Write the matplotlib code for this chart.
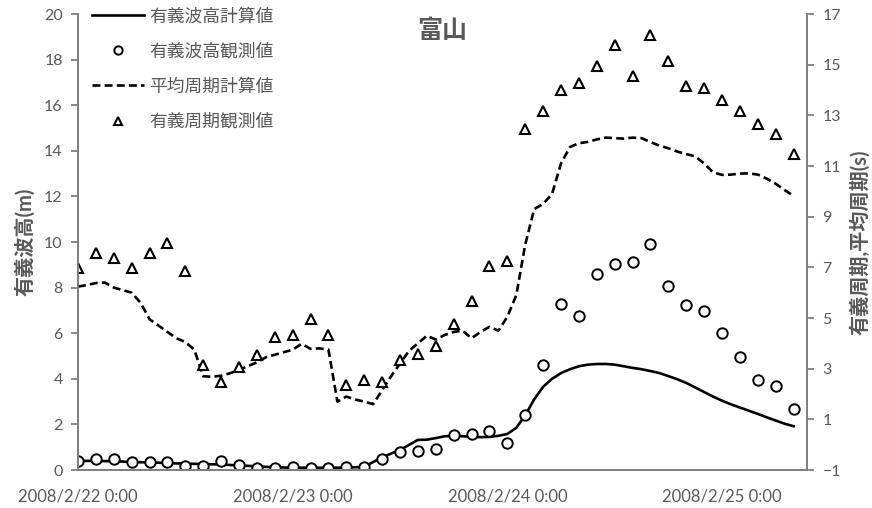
import numpy as np
import matplotlib
matplotlib.use("Agg")
import matplotlib.pyplot as plt
from matplotlib.lines import Line2D

plt.rcParams['font.family'] = ['Lato', 'Noto Sans CJK JP', 'DejaVu Sans']

# hours since 2008/2/22 0:00
obs_hours = np.arange(0, 81, 2)
calc_hours = np.arange(0, 81, 1)

# significant wave height, observed (m)
hs_obs = [0.41, 0.47, 0.47, 0.34, 0.34, 0.36, 0.18, 0.18, 0.38, 0.21,
          0.10, 0.07, 0.12, 0.07, 0.07, 0.14, 0.12, 0.47, 0.80, 0.85,
          0.92, 1.53, 1.59, 1.72, 1.20, 2.41, 4.62, 7.27, 6.77, 8.61,
          9.02, 9.14, 9.91, 8.07, 7.25, 6.96, 6.01, 4.94, 3.95, 3.70,
          2.66]

# significant wave period, observed (s)
ts_obs = [6.96, 7.58, 7.37, 6.96, 7.58, 7.95, 6.86, 3.15, 2.46, 3.08,
          3.54, 4.24, 4.33, 4.96, 4.33, 2.36, 2.55, 2.46, 3.34, 3.57,
          3.90, 4.75, 5.67, 7.05, 7.26, 12.45, 13.17, 14.00, 14.27, 14.96,
          15.78, 14.55, 16.17, 15.16, 14.17, 14.07, 13.61, 13.19, 12.65, 12.25,
          11.46]

# significant wave height, computed (m)
hs_calc = [0.40, 0.40, 0.40, 0.39, 0.38, 0.37, 0.35, 0.34, 0.33, 0.32,
           0.30, 0.29, 0.28, 0.27, 0.26, 0.25, 0.24, 0.22, 0.20, 0.18,
           0.16, 0.14, 0.12, 0.11, 0.10, 0.10, 0.10, 0.10, 0.10, 0.10,
           0.11, 0.12, 0.14, 0.35, 0.55, 0.72, 0.88, 1.10, 1.32, 1.33,
           1.40, 1.48, 1.50, 1.48, 1.46, 1.44, 1.45, 1.50, 1.58, 1.85,
           2.40, 3.10, 3.65, 4.00, 4.25, 4.42, 4.55, 4.62, 4.65, 4.65,
           4.62, 4.55, 4.48, 4.42, 4.34, 4.25, 4.12, 3.98, 3.82, 3.62,
           3.42, 3.22, 3.04, 2.88, 2.74, 2.60, 2.46, 2.31, 2.17, 2.03,
           1.92]

# mean wave period, computed (s)
tm_calc = [6.24, 6.30, 6.38, 6.40, 6.20, 6.10, 6.00, 5.60, 4.95, 4.70,
           4.45, 4.20, 4.05, 3.75, 2.70, 2.68, 2.72, 2.82, 2.95, 3.10,
           3.25, 3.45, 3.55, 3.65, 3.75, 3.98, 3.78, 3.80, 3.75, 1.70,
           1.90, 1.78, 1.70, 1.60, 2.15, 2.70, 3.20, 3.70, 4.00, 4.30,
           4.15, 4.33, 4.45, 4.50, 4.20, 4.45, 4.65, 4.50, 5.05, 5.90,
           7.90, 9.30, 9.50, 9.90, 11.10, 11.75, 11.90, 11.95, 12.05, 12.12,
           12.10, 12.08, 12.12, 12.10, 11.95, 11.80, 11.70, 11.57, 11.47, 11.38,
           11.10, 10.75, 10.65, 10.66, 10.70, 10.71, 10.66, 10.50, 10.30, 10.05,
           9.82]

day_ticks = [0, 24, 48, 72]
day_labels = ['2008/2/22 0:00', '2008/2/23 0:00', '2008/2/24 0:00', '2008/2/25 0:00']

gray = '#595959'
axis_gray = '#7f7f7f'

fig = plt.figure(figsize=(8.72, 5.08), dpi=100)
ax = fig.add_axes([78 / 872, 1 - 470 / 508, (807 - 78) / 872, (470 - 14) / 508])
ax2 = ax.twinx()

ax.plot(calc_hours, hs_calc, color='black', lw=1.9, label='有義波高計算値')
ax.plot(obs_hours, hs_obs, ls='none', marker='o', ms=7.5, mfc='white',
        mec='black', mew=1.4, label='有義波高観測値')
ax2.plot(calc_hours, tm_calc, color='black', lw=1.9, dashes=(3, 1.6),
         label='平均周期計算値')
ax2.plot(obs_hours, ts_obs, ls='none', marker='^', ms=7.5, mfc='white',
         mec='black', mew=1.5, label='有義周期観測値')

ax.set_xlim(0, 81.5)
ax.set_ylim(0, 20)
ax2.set_ylim(-1, 17)
ax.set_yticks(np.arange(0, 21, 2))
ax2.set_yticks(np.arange(-1, 18, 2))
ax.set_xticks(day_ticks)
ax.set_xticklabels(day_labels)

for a in (ax, ax2):
    a.spines['top'].set_visible(False)
    for s in ('left', 'right', 'bottom'):
        a.spines[s].set_color(axis_gray)
        a.spines[s].set_linewidth(1.3)
ax.tick_params(axis='x', length=0, pad=13, labelsize=12, labelcolor=gray)
ax.tick_params(axis='y', length=5, width=1.3, color=axis_gray, pad=6,
               labelsize=11.5, labelcolor=gray)
ax2.tick_params(axis='y', length=5, width=1.3, color=axis_gray, pad=6,
                labelsize=11.5, labelcolor=gray)

ax.set_ylabel('有義波高(m)', fontsize=14.5, fontweight='bold', color=gray, labelpad=6)
ax2.set_ylabel('有義周期,平均周期(s)', fontsize=14.5, fontweight='bold', color=gray, labelpad=6)

ax2.text(0.5, 0.965, '富山', transform=ax2.transAxes, ha='center', va='center',
         fontsize=18, fontweight='bold', color=gray)

handles = [
    Line2D([], [], color='black', lw=1.9),
    Line2D([], [], ls='none', marker='o', ms=6, mfc='white', mec='black', mew=1.4),
    Line2D([], [], color='black', lw=1.9, dashes=(3, 1.6)),
    Line2D([], [], ls='none', marker='^', ms=6, mfc='white', mec='black', mew=1.5),
]
labels = ['有義波高計算値', '有義波高観測値', '平均周期計算値', '有義周期観測値']
leg = ax2.legend(handles, labels, loc='upper left', bbox_to_anchor=(0.01, 1.03),
                 frameon=False, fontsize=12.8, labelspacing=1.05, handlelength=2.9,
                 handletextpad=0.3, borderaxespad=0)
for t in leg.get_texts():
    t.set_color(gray)

fig.savefig('out.png', dpi=100)
